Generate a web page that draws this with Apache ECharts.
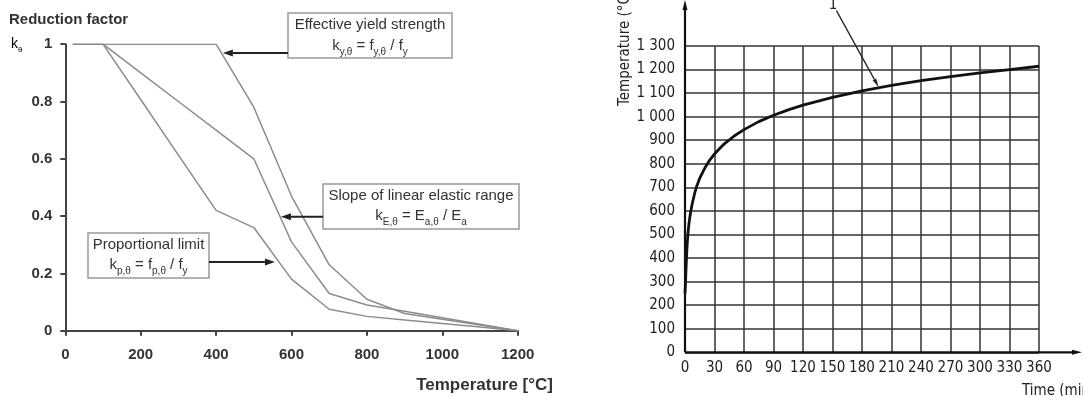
<!DOCTYPE html>
<html><head><meta charset="utf-8">
<script src="https://cdn.jsdelivr.net/npm/echarts@6/dist/echarts.min.js"></script>
<style>html,body{margin:0;padding:0;background:#fff}#c{width:1083px;height:396px}</style>
</head><body><div id="c"></div>
<script>
// ---- Left chart data (reduction factors) ----
var temps = [20,100,200,300,400,500,600,700,800,900,1000,1100,1200];
var kYield = [1,1,1,1,1,0.78,0.47,0.23,0.11,0.06,0.04,0.02,0];
var kProp  = [1,1,0.807,0.613,0.42,0.36,0.18,0.075,0.05,0.0375,0.025,0.0125,0];
var kSlope = [1,1,0.9,0.8,0.7,0.6,0.31,0.13,0.09,0.0675,0.045,0.0225,0];
var leftXTickLabels = ['0','200','400','600','800','1000','1200'];
var leftYTickLabels = ['0','0.2','0.4','0.6','0.8','1'];
// ---- Right chart data (temperature vs time) ----
var times = [0,0.5,1,2,3,4,5,7,10,12,15,20,25,30,35,40,50,60,75,90,105,120,150,180,210,240,270,300,330,360];
var fireT = [250,290,349,445,504,545,576,624,678,706,739,781,815,842,864,885,918,945,979,1006,1029,1049,1082,1110,1133,1153,1170,1186,1200,1214];
var rightYTickLabels = ['0','100','200','300','400','500','600','700','800','900','1 000','1 100','1 200','1 300'];
var rightXTickLabels = ['0','30','60','90','120','150','180','210','240','270','300','330','360'];

function zip(a,b){return a.map(function(v,i){return [v,b[i]];});}

var chart = echarts.init(document.getElementById('c'));
var LF = 'Liberation Sans, Arial, sans-serif';
var RF = 'Liberation Sans Narrow, DejaVu Sans Condensed, sans-serif';
var gray = '#8c8c8c';

chart.setOption({
  animation:false,
  grid:[
    {left:65.3, right:565.3, top:44.2, bottom:65.3},
    {left:685, right:44, top:46, bottom:43.7}
  ],
  xAxis:[
    {type:'value', gridIndex:0, min:0, max:1200, interval:200,
     axisLine:{show:true, lineStyle:{color:'#444', width:2}},
     axisTick:{show:true, length:5, lineStyle:{color:'#444', width:2}},
     axisLabel:{fontFamily:LF, fontWeight:'bold', fontSize:15, color:'#333', margin:17,
       formatter:function(v){return leftXTickLabels[Math.round(v/200)];}},
     splitLine:{show:false}},
    {type:'value', gridIndex:1, min:0, max:360, interval:30,
     axisLine:{show:false}, axisTick:{show:false},
     axisLabel:{fontFamily:RF, fontSize:15, color:'#222', margin:8,
       formatter:function(v){return rightXTickLabels[Math.round(v/30)];}},
     splitLine:{show:true, lineStyle:{color:'#333', width:1.5}}}
  ],
  yAxis:[
    {type:'value', gridIndex:0, min:0, max:1, interval:0.2,
     axisLine:{show:true, lineStyle:{color:'#444', width:2}},
     axisTick:{show:true, length:5, lineStyle:{color:'#444', width:2}},
     axisLabel:{fontFamily:LF, fontWeight:'bold', fontSize:15, color:'#333', margin:13,
       formatter:function(v){return leftYTickLabels[Math.round(v/0.2)];}},
     splitLine:{show:false}},
    {type:'value', gridIndex:1, min:0, max:1300, interval:100,
     axisLine:{show:false}, axisTick:{show:false},
     axisLabel:{fontFamily:RF, fontSize:15, color:'#222', margin:10,
       formatter:function(v){return rightYTickLabels[Math.round(v/100)];}},
     splitLine:{show:true, lineStyle:{color:'#333', width:1.5}}}
  ],
  series:[
    {type:'line', xAxisIndex:0, yAxisIndex:0, data:zip(temps,kYield), symbol:'none', lineStyle:{color:gray, width:1.5}},
    {type:'line', xAxisIndex:0, yAxisIndex:0, data:zip(temps,kSlope), symbol:'none', lineStyle:{color:gray, width:1.5}},
    {type:'line', xAxisIndex:0, yAxisIndex:0, data:zip(temps,kProp), symbol:'none', lineStyle:{color:gray, width:1.5}},
    {type:'line', xAxisIndex:1, yAxisIndex:1, data:zip(times,fireT), symbol:'none', smooth:false,
     lineStyle:{color:'#111', width:2.8, join:'round'}, z:5}
  ]
});

function P(g, pt){ return chart.convertToPixel({gridIndex:g}, pt); }
function arrow(p0, p1, color, w, hl, hw){
  var dx=p1[0]-p0[0], dy=p1[1]-p0[1], L=Math.sqrt(dx*dx+dy*dy), ux=dx/L, uy=dy/L;
  var bx=p1[0]-ux*hl, by=p1[1]-uy*hl;
  return [
    {type:'line', shape:{x1:p0[0],y1:p0[1],x2:bx,y2:by}, style:{stroke:color, lineWidth:w}, z:20},
    {type:'polygon', shape:{points:[[p1[0],p1[1]],[bx-uy*hw/2,by+ux*hw/2],[bx+uy*hw/2,by-ux*hw/2]]}, style:{fill:color}, z:20}
  ];
}
var base = {fontSize:15, fontFamily:LF, lineHeight:22, verticalAlign:'middle', color:'#333'};
var sub = {fontSize:10, fontFamily:LF, lineHeight:12, verticalAlign:'bottom', color:'#333'};
function txt(x,y,t){
  return {type:'text', style:{text:t, x:x, y:y, align:'center', verticalAlign:'middle', rich:{b:base, s:sub}, fontSize:15, fontFamily:LF, fill:'#333'}, z:21};
}
function box(x0,y0,x1,y1){
  return {type:'rect', shape:{x:x0,y:y0,width:x1-x0,height:y1-y0}, style:{fill:'#fff', stroke:'#999', lineWidth:1.5}, z:19};
}

var g = [];
// Left: titles
g.push({type:'text', style:{text:'Reduction factor', x:9, y:20, verticalAlign:'middle', fontFamily:LF, fontWeight:'bold', fontSize:15, fill:'#333'}});
g.push({type:'text', style:{text:'{b|k}{s|θ}', x:11, y:44, verticalAlign:'middle', rich:{b:{fontSize:14,fontFamily:LF,lineHeight:20,verticalAlign:'middle',color:'#444'}, s:{fontSize:8,fontFamily:LF,lineHeight:10,verticalAlign:'bottom',color:'#444'}}}});
g.push({type:'text', style:{text:'Temperature [°C]', x:553, y:385, align:'right', verticalAlign:'middle', fontFamily:LF, fontWeight:'bold', fontSize:17, fill:'#333'}});

// Left annotations
g.push(box(288,13,452,58));
g.push(txt(370,25,'{b|Effective yield strength}'));
g.push(txt(370,46,'{b|k}{s|y,θ}{b| = f}{s|y,θ}{b| / f}{s|y}'));
g = g.concat(arrow([288,53], P(0,[418,0.969]), '#222', 2, 10, 7));

g.push(box(323,184,519,229));
g.push(txt(421,196,'{b|Slope of linear elastic range}'));
g.push(txt(421,216,'{b|k}{s|E,θ}{b| = E}{s|a,θ}{b| / E}{s|a}'));
g = g.concat(arrow([323,216.7], P(0,[572,0.398]), '#222', 2, 10, 7));

g.push(box(88,233,209,278));
g.push(txt(148.5,245,'{b|Proportional limit}'));
g.push(txt(148.5,265,'{b|k}{s|p,θ}{b| = f}{s|p,θ}{b| / f}{s|y}'));
g = g.concat(arrow([209,262], P(0,[556,0.24]), '#222', 2, 10, 7));

// Right: axes with arrows
var o = P(1,[0,0]);
g = g.concat(arrow([o[0], o[1]], [o[0], 0], '#111', 2.2, 10, 5));
g = g.concat(arrow([o[0], o[1]], [1082, o[1]], '#111', 2.2, 10, 5));
g.push({type:'text', rotation:Math.PI/2, x:625, y:106, style:{text:'Temperature (°C)', x:0, y:0, align:'left', verticalAlign:'middle', fontFamily:RF, fontSize:15, fill:'#222'}});
g.push({type:'text', style:{text:'Time (min)', x:1022, y:391, align:'left', verticalAlign:'middle', fontFamily:RF, fontSize:15, fill:'#222'}});
// Right: leader "1"
g.push({type:'text', style:{text:'1', x:833, y:5, align:'center', verticalAlign:'middle', fontFamily:RF, fontSize:15, fill:'#222'}});
g = g.concat(arrow(P(1,[154,1450]), P(1,[197,1125]), '#222', 1.3, 9, 4));

chart.setOption({graphic:g});
</script></body></html>
